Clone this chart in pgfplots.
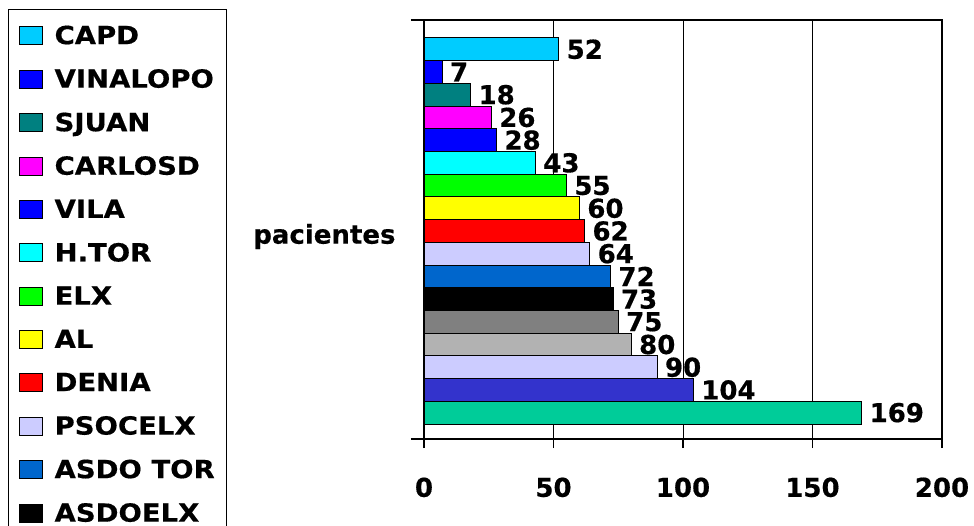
\documentclass[border=0pt]{standalone}
\usepackage{fontspec}
\setmainfont{DejaVu Sans}[BoldFeatures={FakeBold=0.5}]
\newfontfamily\legfont{DejaVu Sans}[FakeStretch=1.1, BoldFeatures={FakeBold=0.5}]
\usepackage{pgfplots}
\pgfplotsset{compat=1.18}
\definecolor{cCAPD}{HTML}{00CCFF}
\definecolor{cVIN}{HTML}{0000FF}
\definecolor{cSJ}{HTML}{008080}
\definecolor{cCAR}{HTML}{FF00FF}
\definecolor{cVILA}{HTML}{0000FF}
\definecolor{cHTOR}{HTML}{00FFFF}
\definecolor{cELX}{HTML}{00FF00}
\definecolor{cAL}{HTML}{FFFF00}
\definecolor{cDEN}{HTML}{FF0000}
\definecolor{cPSO}{HTML}{CCCCFF}
\definecolor{cASDT}{HTML}{0066CC}
\definecolor{cASDE}{HTML}{000000}
\definecolor{cG1}{HTML}{808080}
\definecolor{cG2}{HTML}{B2B2B2}
\definecolor{cL2}{HTML}{CCCCFF}
\definecolor{cDB}{HTML}{3333CC}
\definecolor{cTG}{HTML}{00CC99}
\newcommand\F{\fontsize{26bp}{31bp}\selectfont\bfseries}
\newcommand\LF{\legfont\fontsize{25bp}{30bp}\selectfont\bfseries}
\begin{document}
\begin{tikzpicture}
\useasboundingbox (0,0) rectangle (974bp,526bp);
\clip (0,0) rectangle (974bp,526bp);
\begin{axis}[
  at={(424bp,87bp)}, anchor=south west,
  scale only axis, width=518bp, height=419bp,
  xmin=0, xmax=200, ymin=-1.16, ymax=17.29,
  xbar, bar shift=0pt, bar width=1,
  xtick={0,50,100,150,200}, xtick pos=bottom, xtick align=outside,
  ytick={-1.16,17.29}, yticklabels={}, ytick pos=left, ytick align=outside,
  major tick length=13bp,
  x tick style={/pgfplots/major tick length=9bp},
  tick style={black, line width=1.2bp},
  xmajorgrids, major grid style={black, line width=1bp},
  axis line style={black, line width=1.2bp},
  /pgf/number format/assume math mode=true,
  ticklabel style={font=\F},
  xticklabel style={yshift=-22bp},
  ylabel={pacientes},
  ylabel style={font=\F, rotate=-90, anchor=east, at={(axis description cs:0,0.5)}, xshift=-25bp, yshift=-7bp},
  nodes near coords, nodes near coords style={font=\F, anchor=west, black, inner sep=1bp, xshift=6.5bp},
  every axis plot/.append style={draw=black, line width=0.9bp},
  legend style={at={(axis description cs:-0.8031,1.0263)}, anchor=north west,
    draw=black, line width=1.2bp, font=\LF, inner xsep=10bp, inner ysep=14bp,
    row sep=19.5bp, column sep=10bp, cells={anchor=west}},
  legend image code/.code={\draw[#1, draw=black, line width=1bp] (0bp,-9bp) rectangle (23bp,9bp);},
]
\addplot[fill=cCAPD] coordinates {(52,16)};
\addplot[fill=cVIN] coordinates {(7,15)};
\addplot[fill=cSJ] coordinates {(18,14)};
\addplot[fill=cCAR] coordinates {(26,13)};
\addplot[fill=cVILA] coordinates {(28,12)};
\addplot[fill=cHTOR] coordinates {(43,11)};
\addplot[fill=cELX] coordinates {(55,10)};
\addplot[fill=cAL] coordinates {(60,9)};
\addplot[fill=cDEN] coordinates {(62,8)};
\addplot[fill=cPSO] coordinates {(64,7)};
\addplot[fill=cASDT] coordinates {(72,6)};
\addplot[fill=cASDE] coordinates {(73,5)};
\addplot[fill=cG1, forget plot] coordinates {(75,4)};
\addplot[fill=cG2, forget plot] coordinates {(80,3)};
\addplot[fill=cL2, forget plot] coordinates {(90,2)};
\addplot[fill=cDB, forget plot] coordinates {(104,1)};
\addplot[fill=cTG, forget plot] coordinates {(169,0)};
\legend{CAPD,VINALOPO,SJUAN,CARLOSD,VILA,H.TOR,ELX,AL,DENIA,PSOCELX,ASDO TOR,ASDOELX}
\end{axis}
\end{tikzpicture}
\end{document}
